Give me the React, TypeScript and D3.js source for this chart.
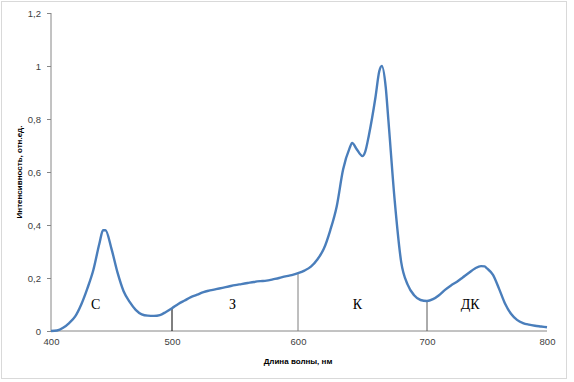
import React, { useEffect, useRef } from "react";
import * as d3 from "d3";

// spectrum, wavelength nm -> relative intensity
const wavelengths = [
  400, 405, 410, 415, 420, 425, 430, 435, 440, 443, 445, 450, 455, 460, 465, 470, 475, 480, 485, 490, 495,
  500, 505, 510, 515, 520, 525, 530, 535, 540, 545, 550, 555, 560, 565, 570, 575, 580, 585, 590, 595,
  600, 605, 610, 615, 620, 625, 630, 635, 640, 642, 645, 650, 652, 655, 660, 663, 665, 668, 670, 675,
  680, 685, 690, 695, 700, 705, 710, 715, 720, 725, 730, 735, 740, 745, 748, 750, 755, 760, 765, 770,
  775, 780, 785, 790, 795, 800,
];
const intensity = [
  0, 0.002, 0.012, 0.03, 0.055, 0.1, 0.16, 0.23, 0.33, 0.38, 0.38, 0.31, 0.22, 0.15, 0.11, 0.08, 0.063, 0.058, 0.057, 0.06, 0.072,
  0.086, 0.102, 0.115, 0.128, 0.137, 0.147, 0.153, 0.158, 0.163, 0.168, 0.173, 0.177, 0.181, 0.185, 0.188, 0.19, 0.195, 0.2, 0.206, 0.211,
  0.218, 0.228, 0.243, 0.27, 0.31, 0.38, 0.47, 0.61, 0.69, 0.71, 0.69, 0.66, 0.675, 0.74, 0.88, 0.98, 1.0, 0.92, 0.8, 0.49,
  0.26, 0.175, 0.135, 0.117, 0.113, 0.12, 0.135, 0.155, 0.172, 0.186, 0.203, 0.22, 0.236, 0.245, 0.244, 0.236, 0.212, 0.16, 0.104, 0.065,
  0.042, 0.03, 0.024, 0.02, 0.017, 0.014,
];

const xTicks = [400, 500, 600, 700, 800];
const yTicks = [0, 0.2, 0.4, 0.6, 0.8, 1, 1.2];

// band boundaries (vertical lines) and band labels
const boundaries = [
  { w: 500, top: 0.086, color: "#000000" },
  { w: 600, top: 0.218, color: "#7f7f7f" },
  { w: 700, top: 0.113, color: "#595959" },
];
const bandNames = ["С", "З", "К", "ДК"];
const bandCenters = [437, 548, 646, 736];
const bandLevel = 0.1;

export default function App() {
  const ref = useRef<SVGSVGElement>(null);

  useEffect(() => {
    const svg = d3.select(ref.current);
    svg.selectAll("*").remove();

    const width = 574;
    const height = 382;

    // outer frame
    svg
      .append("rect")
      .attr("x", 1.5)
      .attr("y", 1.5)
      .attr("width", 565)
      .attr("height", 377)
      .attr("fill", "#fff")
      .attr("stroke", "#d9d9d9");

    const x = d3.scaleLinear().domain([400, 500, 600, 700, 800]).range([51, 172, 298, 427, 547]);
    const y = d3.scaleLinear().domain([0, 1.2]).range([331, 13]);

    // y axis
    const yAxis = svg.append("g").attr("transform", `translate(${x(400)},0)`);
    yAxis
      .call(d3.axisLeft(y).tickValues(yTicks).tickSize(4).tickFormat((d) => d3.format("~g")(d as number).replace(".", ",")))
      .call((g) => g.select(".domain").attr("stroke", "#868686").attr("d", `M0,${y(1.2)}V${y(0)}`));
    yAxis.selectAll(".tick line").attr("stroke", "#868686");
    yAxis
      .selectAll(".tick text")
      .attr("x", -10)
      .style("font-family", "'Liberation Sans', Arial, sans-serif")
      .style("font-size", "9.5px")
      .attr("fill", "#404040");

    // x axis
    const xAxis = svg.append("g").attr("transform", `translate(0,${y(0)})`);
    xAxis
      .call(d3.axisBottom(x).tickValues(xTicks).tickSize(0).tickFormat(d3.format("d")))
      .call((g) => g.select(".domain").attr("stroke", "#868686").attr("d", `M${x(400)},0H${x(800)}`));
    xAxis
      .selectAll(".tick text")
      .attr("y", 7)
      .style("font-family", "'Liberation Sans', Arial, sans-serif")
      .style("font-size", "9.5px")
      .attr("fill", "#404040");

    // band boundaries
    svg
      .append("g")
      .selectAll("line")
      .data(boundaries)
      .enter()
      .append("line")
      .attr("x1", (d) => x(d.w))
      .attr("x2", (d) => x(d.w))
      .attr("y1", (d) => y(d.top))
      .attr("y2", y(0))
      .attr("stroke", (d) => d.color)
      .attr("stroke-width", 1);

    // spectrum line
    const pts = wavelengths.map((w, i) => [w, intensity[i]] as [number, number]);
    const line = d3
      .line<[number, number]>()
      .x((d) => x(d[0]))
      .y((d) => y(d[1]))
      .curve(d3.curveMonotoneX);
    svg
      .append("path")
      .datum(pts)
      .attr("d", line)
      .attr("fill", "none")
      .attr("stroke", "#4a7ebb")
      .attr("stroke-width", 2.4)
      .attr("stroke-linejoin", "round");

    // band labels
    svg
      .append("g")
      .selectAll("text")
      .data(bandNames)
      .enter()
      .append("text")
      .attr("x", (d, i) => x(bandCenters[i]))
      .attr("y", y(bandLevel))
      .attr("dy", "0.35em")
      .attr("text-anchor", "middle")
      .style("font-family", "'Liberation Serif', 'Times New Roman', serif")
      .style("font-size", "14px")
      .style("font-weight", "normal")
      .attr("fill", "#000")
      .text((d) => d);

    // axis titles
    svg
      .append("text")
      .attr("x", 298)
      .attr("y", 364)
      .attr("text-anchor", "middle")
      .style("font-family", "'Liberation Sans', Arial, sans-serif")
      .style("font-size", "8px")
      .style("font-weight", "bold")
      .attr("fill", "#000")
      .text("Длина волны, нм");

    svg
      .append("text")
      .attr("transform", `translate(22,172) rotate(-90)`)
      .attr("text-anchor", "middle")
      .style("font-family", "'Liberation Sans', Arial, sans-serif")
      .style("font-size", "8px")
      .style("font-weight", "bold")
      .attr("fill", "#000")
      .text("Интенсивность, отн.ед.");

    svg.attr("viewBox", `0 0 ${width} ${height}`);
  }, []);

  return (
    <div style={{ position: "fixed", left: 0, top: 0 }}>
      <svg ref={ref} width={574} height={382} style={{ display: "block", background: "#fff" }} />
    </div>
  );
}
